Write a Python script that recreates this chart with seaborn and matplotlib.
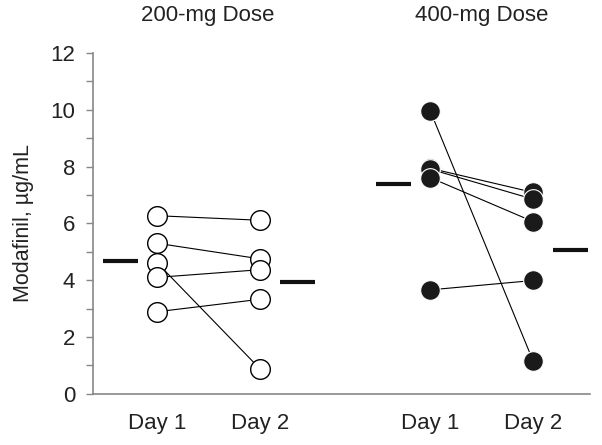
import pandas as pd
import seaborn as sns
import matplotlib.pyplot as plt
import numpy as np

# 数据
days = ['Day 1', 'Day 2']
dose_200_day1 = [6.27, 5.30, 4.61, 4.10, 2.89]
dose_200_day2 = [6.11, 4.75, 0.87, 4.37, 3.33]
dose_400_day1 = [9.96, 7.94, 7.91, 7.61, 3.66]
dose_400_day2 = [1.14, 7.09, 6.85, 6.06, 3.99]
mean_200 = [4.68, 3.92]
mean_400 = [7.39, 5.05]

# x 位置
x_200 = [0, 1]
x_400 = [2.65, 3.65]
mean_offset = [-0.36, 0.36]

rows = []
for i, (a, b) in enumerate(zip(dose_200_day1, dose_200_day2)):
    rows.append(dict(dose='200', subj=f'200_{i}', x=x_200[0], y=a))
    rows.append(dict(dose='200', subj=f'200_{i}', x=x_200[1], y=b))
for i, (a, b) in enumerate(zip(dose_400_day1, dose_400_day2)):
    rows.append(dict(dose='400', subj=f'400_{i}', x=x_400[0], y=a))
    rows.append(dict(dose='400', subj=f'400_{i}', x=x_400[1], y=b))
data = pd.DataFrame(rows)

sns.set_style('ticks')
plt.rcParams['font.family'] = ['Liberation Sans', 'DejaVu Sans']

fig = plt.figure(figsize=(6.02, 4.45), dpi=100)
ax = fig.add_axes([0.155, 0.115, 0.825, 0.766])

# 连线
sns.lineplot(data=data, x='x', y='y', units='subj', estimator=None,
             color='black', lw=0.8, ax=ax, legend=False)
# 点
sns.scatterplot(data=data[data['dose'] == '200'], x='x', y='y', ax=ax,
                s=200, facecolor='white', edgecolor='black', linewidth=1, zorder=3)
sns.scatterplot(data=data[data['dose'] == '400'], x='x', y='y', ax=ax,
                s=200, color='#1a1a1a', edgecolor='white', linewidth=0.8, zorder=3)

# 均值横线
for xs, ms in [(x_200, mean_200), (x_400, mean_400)]:
    for xi, m, off in zip(xs, ms, mean_offset):
        c = xi + off
        ax.plot([c - 0.17, c + 0.17], [m, m], color='#111111', lw=3,
                solid_capstyle='butt')

ax.set_xlim(-0.62, 4.2)
ax.set_ylim(0, 12)
ax.set_xticks(x_200 + x_400)
ax.set_xticklabels(days + days)
ax.set_yticks(np.arange(0, 13, 2))
ax.set_yticks(np.arange(1, 12, 2), minor=True)
ax.tick_params(axis='x', length=0, pad=14, labelsize=16, colors='#222222')
ax.tick_params(axis='y', which='both', length=5, width=1, color='#888888',
               labelsize=16, labelcolor='#222222', pad=8)
for s in ['top', 'right']:
    ax.spines[s].set_visible(False)
for s in ['left', 'bottom']:
    ax.spines[s].set_color('#888888')
    ax.spines[s].set_linewidth(1.2)
ax.set_xlabel('')
ax.set_ylabel('Modafinil, µg/mL', fontsize=15.5, color='#222222', labelpad=12)

fig.text(208 / 602, 1 - 16 / 445, '200-mg Dose', ha='center', va='center',
         fontsize=16, color='#222222')
fig.text(482 / 602, 1 - 16 / 445, '400-mg Dose', ha='center', va='center',
         fontsize=16, color='#222222')

fig.savefig('out.png', dpi=100)
